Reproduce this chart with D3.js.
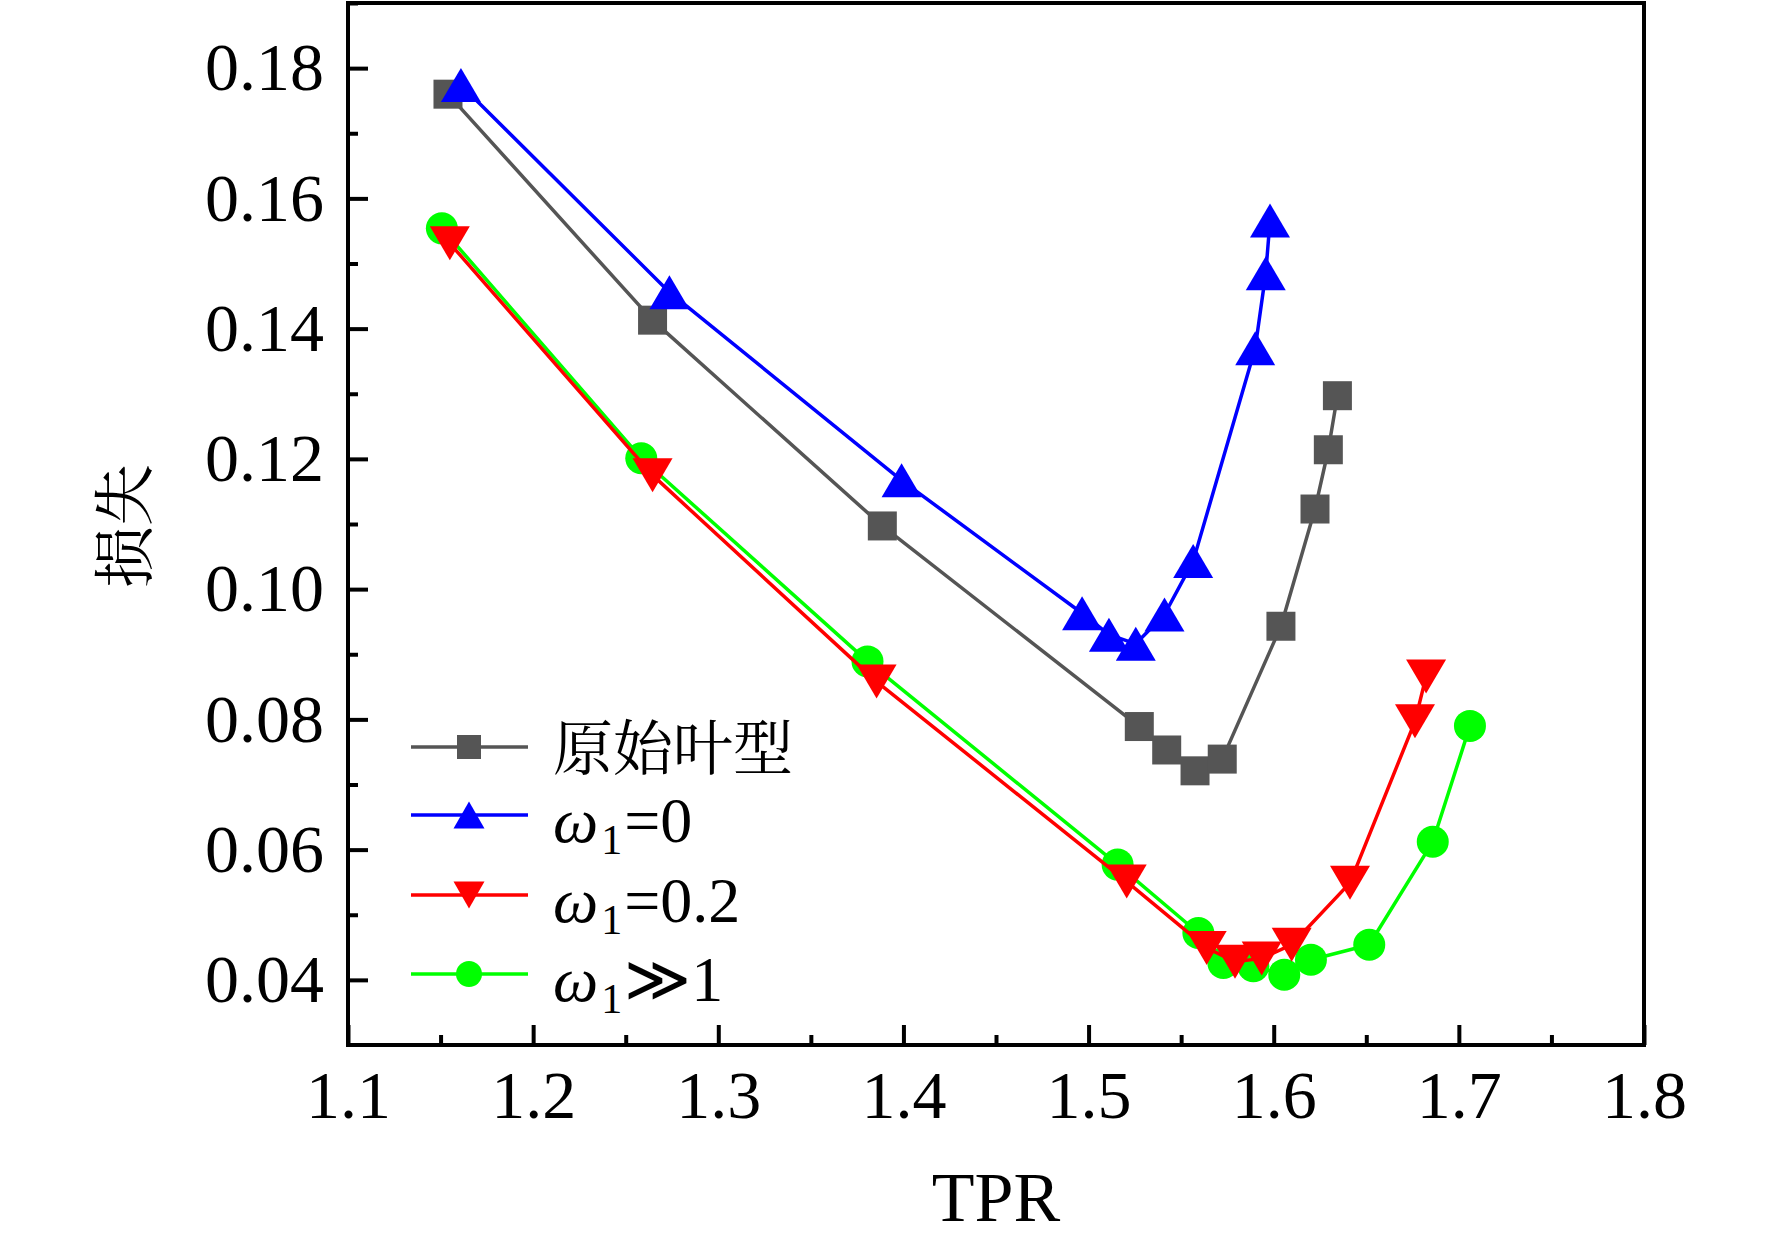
<!DOCTYPE html>
<html>
<head>
<meta charset="utf-8">
<script src="https://cdn.jsdelivr.net/npm/d3@7"></script>
<style>
  body { margin: 0; background: #fff; }
  svg { display: block; }
</style>
</head>
<body>
<div id="chart"></div>
<script>
// values
const seriesNames = ["原始叶型", "ω1=0", "ω1=0.2", "ω1≫1"];

const tprOriginal = [1.154, 1.2645, 1.3886, 1.5274, 1.5422, 1.5575, 1.5722, 1.6039, 1.6223, 1.6295, 1.6344];
const lossOriginal = [0.176, 0.1413, 0.1097, 0.0789, 0.0753, 0.0721, 0.0739, 0.0943, 0.1123, 0.1214, 0.1297];

const tprW0 = [1.161, 1.2736, 1.399, 1.4965, 1.511, 1.5255, 1.541, 1.5565, 1.59, 1.5957, 1.598];
const lossW0 = [0.1774, 0.1456, 0.1167, 0.0963, 0.093, 0.0916, 0.0961, 0.1043, 0.137, 0.1485, 0.1566];

const tprW02 = [1.155, 1.2645, 1.3855, 1.5206, 1.5638, 1.5791, 1.5935, 1.6097, 1.6412, 1.6763, 1.6823];
const lossW02 = [0.1531, 0.1175, 0.0858, 0.0551, 0.0449, 0.0428, 0.0433, 0.0454, 0.0549, 0.0797, 0.0866];

const tprWinf = [1.1507, 1.2584, 1.3806, 1.5157, 1.5593, 1.5728, 1.589, 1.6057, 1.6201, 1.6516, 1.6859, 1.706];
const lossWinf = [0.1554, 0.1201, 0.0889, 0.0577, 0.0472, 0.0426, 0.0421, 0.0408, 0.0431, 0.0454, 0.0612, 0.079];

const xTicks = [1.1, 1.2, 1.3, 1.4, 1.5, 1.6, 1.7, 1.8];
const xMinorTicks = [1.15, 1.25, 1.35, 1.45, 1.55, 1.65, 1.75];
const yTicks = [0.04, 0.06, 0.08, 0.10, 0.12, 0.14, 0.16, 0.18];
const yMinorTicks = [0.05, 0.07, 0.09, 0.11, 0.13, 0.15, 0.17, 0.19];

const width = 1772, height = 1240;
const margin = { top: 3, right: 128, bottom: 195, left: 348 };
const innerW = width - margin.left - margin.right;
const innerH = height - margin.top - margin.bottom;

const serif = "'Liberation Serif', 'Times New Roman', 'DejaVu Serif', serif";
const cjk = "'Noto Serif CJK SC', 'Noto Sans CJK SC', sans-serif";

var svg = d3.select("#chart")
  .append("svg")
  .attr("width", width)
  .attr("height", height)
  .style("background", "#fff");

var g = svg.append("g")
  .attr("transform", `translate(${margin.left}, ${margin.top})`);

var x = d3.scaleLinear().domain([1.1, 1.8]).range([0, innerW]);
var y = d3.scaleLinear().domain([0.03, 0.19]).range([innerH, 0]);

// marker shapes (Origin style: bbox-centred)
function squarePath(s) { return `M${-s/2},${-s/2}H${s/2}V${s/2}H${-s/2}Z`; }
function upPath(w, h) { return `M0,${-h/2}L${w/2},${h/2}L${-w/2},${h/2}Z`; }
function downPath(w, h) { return `M0,${h/2}L${w/2},${-h/2}L${-w/2},${-h/2}Z`; }
function circlePath(r) { return d3.arc()({ innerRadius: 0, outerRadius: r, startAngle: 0, endAngle: 2 * Math.PI }); }

var series = [
  { name: seriesNames[0], xs: tprOriginal, ys: lossOriginal, color: "#555555", shape: squarePath(29), legendShape: squarePath(24) },
  { name: seriesNames[1], xs: tprW0, ys: lossW0, color: "#0000ff", shape: upPath(40, 34), legendShape: upPath(31, 27) },
  { name: seriesNames[3], xs: tprWinf, ys: lossWinf, color: "#00ff00", shape: circlePath(16), legendShape: circlePath(13) },
  { name: seriesNames[2], xs: tprW02, ys: lossW02, color: "#ff0000", shape: downPath(40, 34), legendShape: downPath(31, 27) }
];

var line = d3.line()
  .x(d => x(d[0]))
  .y(d => y(d[1]));

series.forEach(function (s) {
  var pts = s.xs.map((v, i) => [v, s.ys[i]]);
  g.append("path")
    .datum(pts)
    .attr("fill", "none")
    .attr("stroke", s.color)
    .attr("stroke-width", 3.5)
    .attr("stroke-linejoin", "round")
    .attr("d", line);
  g.selectAll(null)
    .data(pts)
    .enter()
    .append("path")
    .attr("d", s.shape)
    .attr("fill", s.color)
    .attr("transform", d => `translate(${x(d[0])}, ${y(d[1])})`);
});

// axes, ticks pointing inward
var xAxis = g.append("g")
  .attr("transform", `translate(0, ${innerH})`)
  .call(d3.axisBottom(x).tickValues(xTicks).tickSize(-20).tickPadding(25).tickFormat(d3.format(".1f")));
var xMinor = g.append("g")
  .attr("transform", `translate(0, ${innerH})`)
  .call(d3.axisBottom(x).tickValues(xMinorTicks).tickSize(-10).tickFormat(""));
var yAxis = g.append("g")
  .call(d3.axisLeft(y).tickValues(yTicks).tickSize(-20).tickPadding(24).tickFormat(d3.format(".2f")));
var yMinor = g.append("g")
  .call(d3.axisLeft(y).tickValues(yMinorTicks).tickSize(-10).tickFormat(""));

[xAxis, xMinor, yAxis, yMinor].forEach(function (a) {
  a.select(".domain").remove();
  a.selectAll(".tick line").attr("stroke", "#000").attr("stroke-width", 4);
  a.selectAll("text")
    .attr("fill", "#000")
    .style("font-family", serif)
    .style("font-size", "68px");
});

// frame
g.append("rect")
  .attr("x", 0).attr("y", 0)
  .attr("width", innerW).attr("height", innerH)
  .attr("fill", "none")
  .attr("stroke", "#000")
  .attr("stroke-width", 4);

// axis titles
svg.append("text")
  .attr("x", margin.left + innerW / 2)
  .attr("y", 1221)
  .attr("text-anchor", "middle")
  .style("font-family", serif)
  .style("font-size", "70px")
  .text("TPR");

svg.append("text")
  .attr("transform", "translate(120, 526) rotate(-90)")
  .attr("text-anchor", "middle")
  .attr("dominant-baseline", "central")
  .style("font-family", cjk)
  .style("font-size", "62px")
  .text("损失");

// legend
var legendRows = [
  { s: series[0], y: 747 },
  { s: series[1], y: 815 },
  { s: series[3], y: 895 },
  { s: series[2], y: 974 }
];

var legend = svg.append("g");
legendRows.forEach(function (r) {
  legend.append("line")
    .attr("x1", 411).attr("x2", 528)
    .attr("y1", r.y).attr("y2", r.y)
    .attr("stroke", r.s.color)
    .attr("stroke-width", 3.5);
  legend.append("path")
    .attr("d", r.s.legendShape)
    .attr("fill", r.s.color)
    .attr("transform", `translate(469, ${r.y})`);
});

legend.append("text")
  .attr("x", 553)
  .attr("y", legendRows[0].y - 3)
  .attr("dominant-baseline", "central")
  .style("font-family", cjk)
  .style("font-size", "60px")
  .text(seriesNames[0]);

// ω with subscript 1, one text per row
var omegaRest = ["=0", "=0.2", "≫1"];
legendRows.slice(1).forEach(function (r, i) {
  var t = legend.append("text")
    .attr("x", 553)
    .attr("y", r.y + 27)
    .style("font-family", serif)
    .style("font-size", "64px");
  t.append("tspan").style("font-style", "italic").text("ω");
  t.append("tspan").attr("dx", 3).attr("dy", 12).style("font-size", "42px").text("1");
  t.append("tspan").attr("dx", 2).attr("dy", -12).text(omegaRest[i]);
});
</script>
</body>
</html>
